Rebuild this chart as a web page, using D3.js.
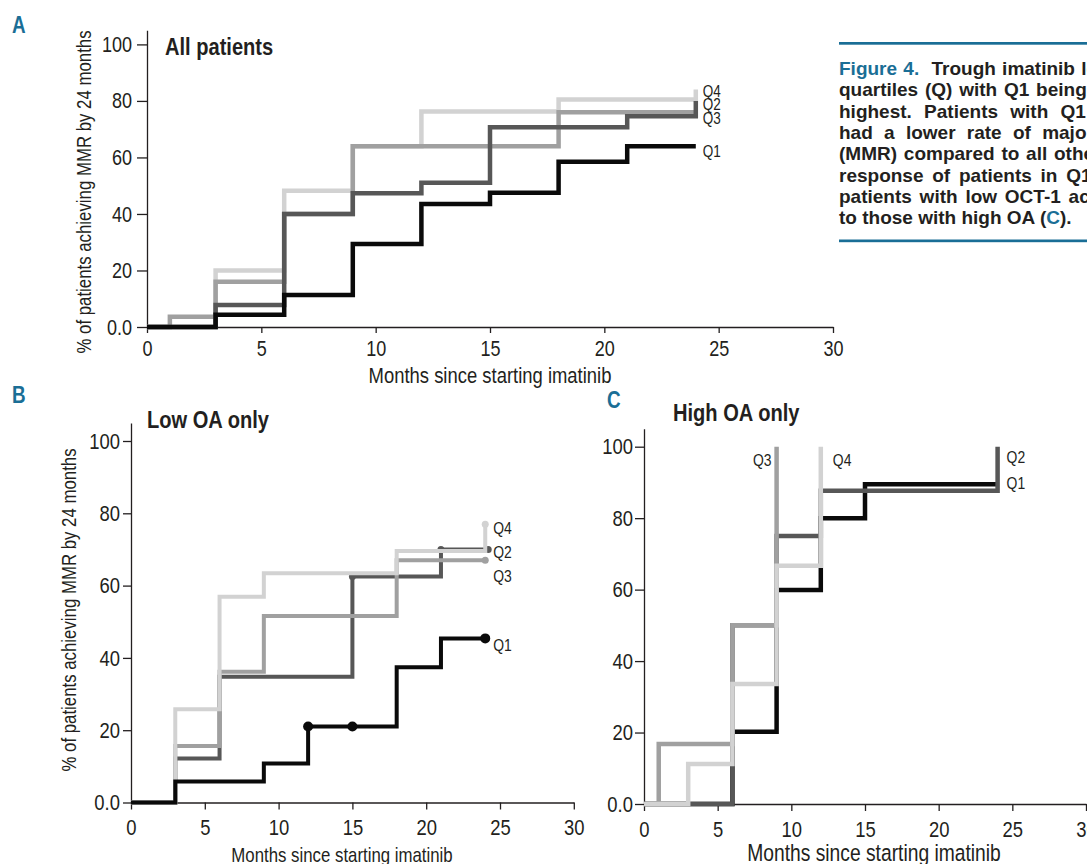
<!DOCTYPE html>
<html>
<head>
<meta charset="utf-8">
<title>Figure 4</title>
<script src="https://cdn.jsdelivr.net/npm/d3@7"></script>
<style>
  body { margin: 0; background: #fff; }
  svg text { font-family: "Liberation Sans", Arial, sans-serif; fill: #231f20; }
  .caption text { font-weight: bold; font-size: 19px; }
  .axis path, .axis line { stroke: #231f20; stroke-width: 1.3; }
</style>
</head>
<body>
<svg id="fig" width="1087" height="864"></svg>
<script>
// ticks shared by all three panels
var xTicks = [0, 5, 10, 15, 20, 25, 30];
var yTicks = [0, 20, 40, 60, 80, 100];
var yTickLabels = ["0.0", "20", "40", "60", "80", "100"];
var quartiles = ["Q1", "Q2", "Q3", "Q4"];

// A: all patients (months, % MMR)
var monthsA_Q1 = [0, 3, 6, 9, 12, 15, 18, 21, 24];
var pctA_Q1    = [0, 4.3, 11.3, 29.4, 43.5, 47.5, 58.5, 64, 64];
var monthsA_Q2 = [0, 3, 6, 9, 12, 15, 21, 24, 24];
var pctA_Q2    = [0, 7.8, 40, 47.3, 51, 70.7, 74.6, 74.6, 80];
var monthsA_Q3 = [0, 1, 3, 6, 9, 18, 24];
var pctA_Q3    = [0, 3.6, 16, 40, 64, 76, 76];
var monthsA_Q4 = [0, 3, 6, 9, 12, 18, 24, 24];
var pctA_Q4    = [0, 20, 48.2, 64, 76.3, 80.5, 80.5, 84];

// B: low OA only
var monthsB_Q1 = [0, 3, 9, 12, 18, 21, 24];
var pctB_Q1    = [0, 5.8, 10.8, 21, 37.4, 45.4, 45.4];
var monthsB_Q2 = [0, 3, 6, 15, 21, 24];
var pctB_Q2    = [0, 12.2, 34.8, 62.5, 70, 70];
var monthsB_Q3 = [0, 3, 6, 9, 18, 24];
var pctB_Q3    = [0, 15.6, 36.2, 51.6, 67, 67];
var monthsB_Q4 = [0, 3, 6, 9, 18, 24, 24];
var pctB_Q4    = [0, 25.8, 56.9, 63.4, 69.6, 69.6, 77];
// censor marks in B
var censorB_Q1 = [[12, 21], [15, 21], [24, 45.4]];
var censorB_Q2 = [[15, 62.5], [21, 70], [24.2, 70]];
var censorB_Q3 = [[24, 67]];
var censorB_Q4 = [[24, 77]];

// C: high OA only
var monthsC_Q1 = [0, 6, 9, 12, 15, 24];
var pctC_Q1    = [0, 20.2, 59.9, 80, 89.5, 89.5];
var monthsC_Q2 = [0, 6, 9, 12, 24, 24];
var pctC_Q2    = [0, 50, 75, 87.7, 87.7, 100];
var monthsC_Q3 = [0, 1, 6, 9];
var pctC_Q3    = [0, 16.8, 50, 100];
var monthsC_Q4 = [0, 3, 6, 9, 12];
var pctC_Q4    = [0, 11.2, 33.6, 66.7, 100];

var captionLines = [
  "Trough imatinib levels were",
  "quartiles (Q) with Q1 being the lowest",
  "highest. Patients with Q1 imatinib",
  "had a lower rate of major molecular",
  "(MMR) compared to all other quartiles",
  "response of patients in Q1 was",
  "patients with low OCT-1 activity (B)",
  "to those with high OA (C)."
];
// justified caption: extra word spacing per line
var captionSpacing = [1, 1.5, 7, 6, 1.5, 3.5, 2.5, 0];

var colors = { Q1: "#0a0a0a", Q2: "#575757", Q3: "#a0a0a0", Q4: "#d2d2d2" };
var blue = "#1a6e96";
var narrow = 0.82;   // condensed look, as in the figure

var svg = d3.select("#fig");

function series(months, pct) {
  return months.map(function(m, i) { return [m, pct[i]]; });
}

// squeeze a text horizontally around its anchor point
function squeeze(sel) {
  sel.each(function() {
    var t = d3.select(this);
    var x = +t.attr("x") || 0, y = +t.attr("y") || 0;
    t.attr("x", null).attr("y", null)
      .attr("transform", "translate(" + x + "," + y + ") scale(" + narrow + ",1)");
  });
}

function label(g, x, y, txt, size, bold) {
  return g.append("text").attr("x", x).attr("y", y)
    .style("font-size", size + "px").style("font-weight", bold ? "bold" : null)
    .text(txt);
}

function drawPanel(p) {
  var g = svg.append("g");
  var x = d3.scaleLinear().domain([0, 30]).range(p.xRange);
  var y = d3.scaleLinear().domain([0, 105]).range(p.yRange);

  g.append("g").attr("class", "axis")
    .attr("transform", "translate(0," + y(0) + ")")
    .call(d3.axisBottom(x).tickValues(xTicks).tickSize(p.xTick).tickSizeOuter(0).tickPadding(p.xPad))
    .call(function(a) {
      a.selectAll("text").style("font-size", p.tickFont + "px").style("fill", "#231f20").call(squeeze);
    });

  g.append("g").attr("class", "axis")
    .attr("transform", "translate(" + x(0) + ",0)")
    .call(d3.axisLeft(y).tickValues(yTicks).tickSize(p.yTick).tickSizeOuter(0).tickPadding(p.yPad)
      .tickFormat(function(d, i) { return yTickLabels[i]; }))
    .call(function(a) {
      a.selectAll("text").style("font-size", p.tickFont + "px").style("fill", "#231f20").call(squeeze);
    });

  var line = d3.line()
    .x(function(d) { return x(d[0]); })
    .y(function(d) { return y(d[1]); })
    .curve(d3.curveStepAfter);

  p.order.forEach(function(q) {
    var s = p.data[q];
    g.append("path")
      .attr("d", line(s.pts))
      .attr("fill", "none")
      .attr("stroke", colors[q])
      .attr("stroke-width", p.lineWidth);
    if (s.dots) {
      g.selectAll(null).data(s.dots).enter().append("circle")
        .attr("cx", function(d) { return x(d[0]); })
        .attr("cy", function(d) { return y(d[1]); })
        .attr("r", q == "Q1" ? 5 : 3.5)
        .attr("fill", colors[q]);
    }
  });

  // quartile labels at the line ends
  quartiles.forEach(function(q) {
    var l = p.labels[q];
    label(g, x(l[0]) + l[2], y(l[1]), q, p.labelFont)
      .attr("dy", "0.35em")
      .attr("text-anchor", l[3] || "start")
      .call(squeeze);
  });

  label(g, p.title[1], p.title[2], p.title[0], 24.5, true).call(squeeze);
  label(g, p.letter[1], p.letter[2], p.letter[0], 23, true).style("fill", blue).call(squeeze);
  label(g, p.xTitle[0], p.xTitle[1], "Months since starting imatinib", p.xTitle[2])
    .attr("text-anchor", "middle").call(squeeze);
  if (p.yTitle) {
    g.append("text")
      .attr("transform", "translate(" + p.yTitle[0] + "," + p.yTitle[1] + ") rotate(-90) scale(" + narrow + ",1)")
      .attr("text-anchor", "middle")
      .style("font-size", "20.5px")
      .text("% of patients achieving MMR by 24 months");
  }
}

drawPanel({
  xRange: [147, 833], yRange: [327, 327 - 105 * 2.826],
  xTick: 6, xPad: 7, yTick: 10, yPad: 5, tickFont: 22, lineWidth: 4.5, labelFont: 16.5,
  order: ["Q4", "Q3", "Q2", "Q1"],
  data: {
    Q1: { pts: series(monthsA_Q1, pctA_Q1) },
    Q2: { pts: series(monthsA_Q2, pctA_Q2) },
    Q3: { pts: series(monthsA_Q3, pctA_Q3) },
    Q4: { pts: series(monthsA_Q4, pctA_Q4) }
  },
  labels: { Q4: [24, 83.5, 7], Q2: [24, 78.7, 7], Q3: [24, 74, 7], Q1: [24, 62.3, 7] },
  title: ["All patients", 165, 55],
  letter: ["A", 12, 33],
  xTitle: [490, 383, 22.5],
  yTitle: [91, 192]
});

drawPanel({
  xRange: [131, 131 + 30 * 14.76], yRange: [802.5, 802.5 - 105 * 3.615],
  xTick: 7, xPad: 10, yTick: 8, yPad: 3, tickFont: 22.5, lineWidth: 4, labelFont: 17,
  order: ["Q2", "Q3", "Q4", "Q1"],
  data: {
    Q1: { pts: series(monthsB_Q1, pctB_Q1), dots: censorB_Q1 },
    Q2: { pts: series(monthsB_Q2, pctB_Q2), dots: censorB_Q2 },
    Q3: { pts: series(monthsB_Q3, pctB_Q3), dots: censorB_Q3 },
    Q4: { pts: series(monthsB_Q4, pctB_Q4), dots: censorB_Q4 }
  },
  labels: { Q4: [24, 76, 8], Q2: [24, 69.4, 8], Q3: [24, 62.7, 8], Q1: [24, 43.6, 8] },
  title: ["Low OA only", 147, 428],
  letter: ["B", 12, 403],
  xTitle: [342, 862, 20.5],
  yTitle: [76, 610]
});

drawPanel({
  xRange: [644, 1086], yRange: [804, 804 - 105 * 3.573],
  xTick: 7, xPad: 10, yTick: 9, yPad: 2, tickFont: 22.5, lineWidth: 4.5, labelFont: 17,
  order: ["Q1", "Q2", "Q3", "Q4"],
  data: {
    Q1: { pts: series(monthsC_Q1, pctC_Q1) },
    Q2: { pts: series(monthsC_Q2, pctC_Q2) },
    Q3: { pts: series(monthsC_Q3, pctC_Q3) },
    Q4: { pts: series(monthsC_Q4, pctC_Q4) }
  },
  labels: { Q3: [9, 96.3, -5, "end"], Q4: [12, 96.3, 12], Q2: [24, 97, 9], Q1: [24, 89.8, 9] },
  title: ["High OA only", 673, 421],
  letter: ["C", 607, 408],
  xTitle: [874, 861, 23.5],
  yTitle: null
});

// caption box, cut by the right edge as in the figure
var cap = svg.append("g").attr("class", "caption");
cap.append("rect").attr("x", 839).attr("y", 42).attr("width", 260).attr("height", 2.7).attr("fill", blue);
cap.append("rect").attr("x", 839).attr("y", 239.5).attr("width", 260).attr("height", 2.7).attr("fill", blue);
captionLines.forEach(function(t, i) {
  var tx = cap.append("text").attr("x", 839).attr("y", 75 + i * 21.3)
    .style("word-spacing", captionSpacing[i] + "px");
  if (i == 0) {
    tx.append("tspan").style("fill", blue).text("Figure 4.");
    tx.append("tspan").attr("dx", 6).text(" " + t);
  } else if (i == 7) {
    tx.append("tspan").text("to those with high OA (");
    tx.append("tspan").style("fill", blue).text("C");
    tx.append("tspan").text(").");
  } else {
    tx.text(t);
  }
});
</script>
</body>
</html>
